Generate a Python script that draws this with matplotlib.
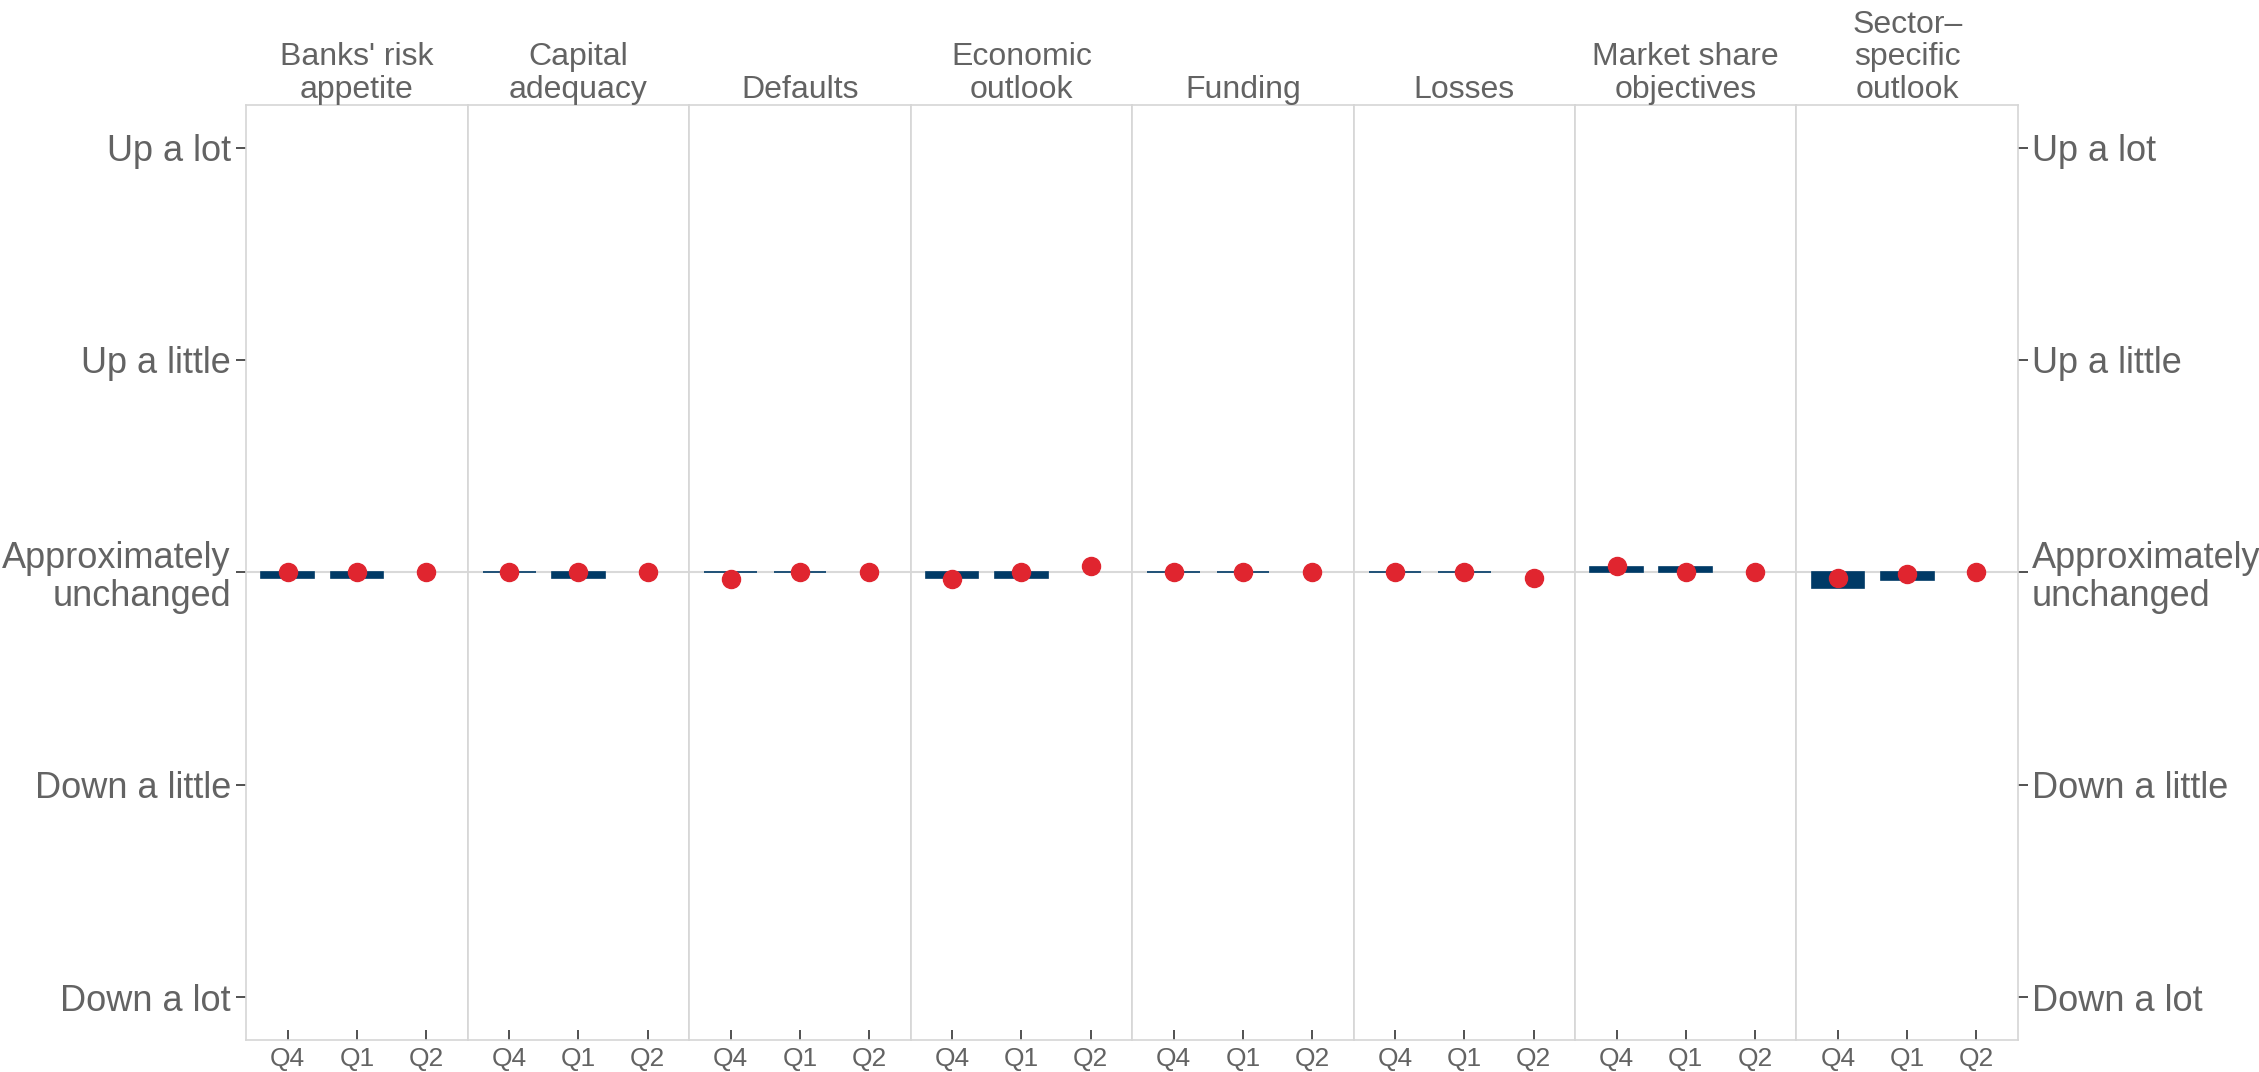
import numpy as np
import matplotlib.pyplot as plt

plt.rcParams['font.family'] = ['Liberation Sans Narrow', 'Liberation Sans', 'DejaVu Sans']

panels = ["Banks' risk\nappetite", "Capital\nadequacy", "Defaults", "Economic\noutlook",
          "Funding", "Losses", "Market share\nobjectives", "Sector\u2013\nspecific\noutlook"]
quarters = ['Q4', 'Q1', 'Q2']
# bar values (Q2 has no bar)
bars = [[-0.028, -0.028, np.nan],
        [0.0, -0.028, np.nan],
        [0.0, 0.0, np.nan],
        [-0.028, -0.024, np.nan],
        [0.0, 0.0, np.nan],
        [0.0, 0.0, np.nan],
        [0.027, 0.027, np.nan],
        [-0.075, -0.034, np.nan]]
# dot values
dots = [[0.0, 0.0, 0.0],
        [0.0, 0.0, 0.0],
        [-0.031, 0.0, 0.0],
        [-0.031, 0.0, 0.031],
        [0.0, 0.0, 0.0],
        [0.0, 0.0, -0.028],
        [0.028, 0.0, 0.0],
        [-0.028, -0.005, 0.0]]
ylabels = ['Down a lot', 'Down a little', 'Approximately\nunchanged', 'Up a little', 'Up a lot']
yvals = [-2, -1, 0, 1, 2]

navy = '#003a66'
red = '#e0252f'
grey = '#636363'
border = '#d6d6d6'

fig, axes = plt.subplots(1, 8, figsize=(22.59, 10.72), dpi=100, sharey=True)
fig.subplots_adjust(left=0.109, right=0.8933, top=0.902, bottom=0.03, wspace=0)

x = np.arange(1, 4)
for i, ax in enumerate(axes):
    ax.axhline(0, color='#d9d9d9', lw=1.5, zorder=0)
    ax.bar(x, bars[i], width=0.76, color=navy, edgecolor=navy, linewidth=1.2, zorder=2)
    ax.plot(x, dots[i], 'o', color=red, markersize=13, zorder=3)
    ax.set_xlim(0.4, 3.6)
    ax.set_ylim(-2.2, 2.2)
    ax.set_xticks(x)
    ax.set_xticklabels(quarters)
    ax.tick_params(axis='x', direction='in', length=7, width=1.2, color='#333333',
                   labelsize=19, labelcolor=grey, pad=5)
    for s in ax.spines.values():
        s.set_color(border)
        s.set_linewidth(1.2)
    ax.set_title(panels[i], fontsize=23, color=grey, pad=5, linespacing=1.12)
    ax.tick_params(axis='y', left=False, labelleft=False)

axes[0].set_yticks(yvals)
axes[0].set_yticklabels(ylabels)
axes[0].tick_params(axis='y', left=True, labelleft=True, length=7, width=1.2,
                    color='#333333', labelsize=26, labelcolor=grey, pad=4)
for lab in axes[0].get_yticklabels():
    lab.set_linespacing(1.1)

axes[-1].tick_params(axis='y', right=True, labelright=True, length=7, width=1.2,
                     color='#333333', labelsize=26, labelcolor=grey, pad=3)
for lab in axes[-1].yaxis.get_ticklabels(which='both'):
    lab.set_linespacing(1.1)
for t in axes[-1].yaxis.get_major_ticks():
    t.label2.set_linespacing(1.1)

fig.savefig('out.png', dpi=100)
